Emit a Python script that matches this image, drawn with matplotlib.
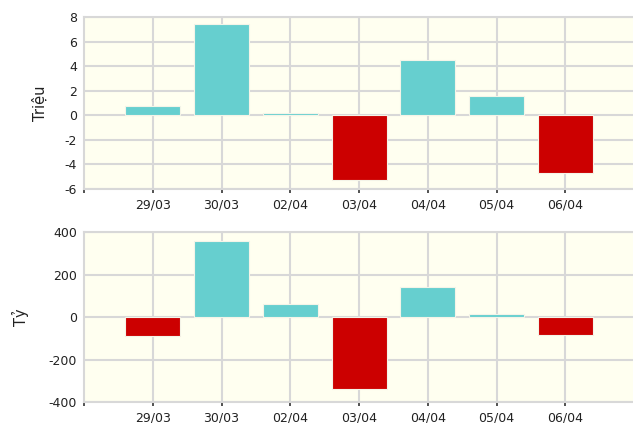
import matplotlib
matplotlib.use('Agg')
import matplotlib.pyplot as plt

# Dữ liệu
ngay = ['29/03', '30/03', '02/04', '03/04', '04/04', '05/04', '06/04']
kl_trieu = [0.75, 7.4, 0.15, -5.3, 4.5, 1.6, -4.7]
gt_ty = [-91, 359, 63, -337, 143, 13, -86]

mau_tang = '#66CFCF'
mau_giam = '#CC0000'
nen = '#FFFFF0'
luoi = '#D8D8D8'

plt.rcParams['font.family'] = ['DejaVu Sans']
plt.rcParams['axes.unicode_minus'] = False

fig = plt.figure(figsize=(6.33, 4.23), dpi=100)
ax1 = fig.add_axes([0.1327, 0.5532, 0.869, 0.4066])
ax2 = fig.add_axes([0.1327, 0.0496, 0.869, 0.4019])


def ve(ax, values, ylim, yticks, ylabel, xlab):
    x = list(range(len(values)))
    colors = [mau_tang if v >= 0 else mau_giam for v in values]
    ax.bar(x, values, width=0.8, color=colors, edgecolor='#F4F4E8', linewidth=0.8, zorder=3)
    ax.set_facecolor(nen)
    ax.set_xlim(-1, len(values))
    ax.set_ylim(*ylim)
    ax.set_yticks(yticks)
    ax.set_xticks(x)
    ax.set_xticklabels(ngay)
    ax.set_xticks([-1], minor=True)
    ax.grid(True, color=luoi, linewidth=1.5, zorder=0)
    for s in ax.spines.values():
        s.set_color(luoi)
        s.set_linewidth(1.5)
    ax.spines['right'].set_visible(False)
    ax.tick_params(axis='x', which='both', length=3, width=1.2, color='#333333',
                   labelsize=9, pad=3.5, labelcolor='#222222')
    ax.tick_params(axis='y', length=0, labelsize=9, pad=5, labelcolor='#222222')
    ax.set_ylabel(ylabel, fontsize=10.5, va='center', color='#222222')
    ax.yaxis.set_label_coords(xlab, 0.5)


ve(ax1, kl_trieu, (-6, 8), range(-6, 9, 2), 'Triệu', -0.080)
ve(ax2, gt_ty, (-400, 400), range(-400, 401, 200), 'Tỷ', -0.116)

fig.savefig('out.png', dpi=100)
